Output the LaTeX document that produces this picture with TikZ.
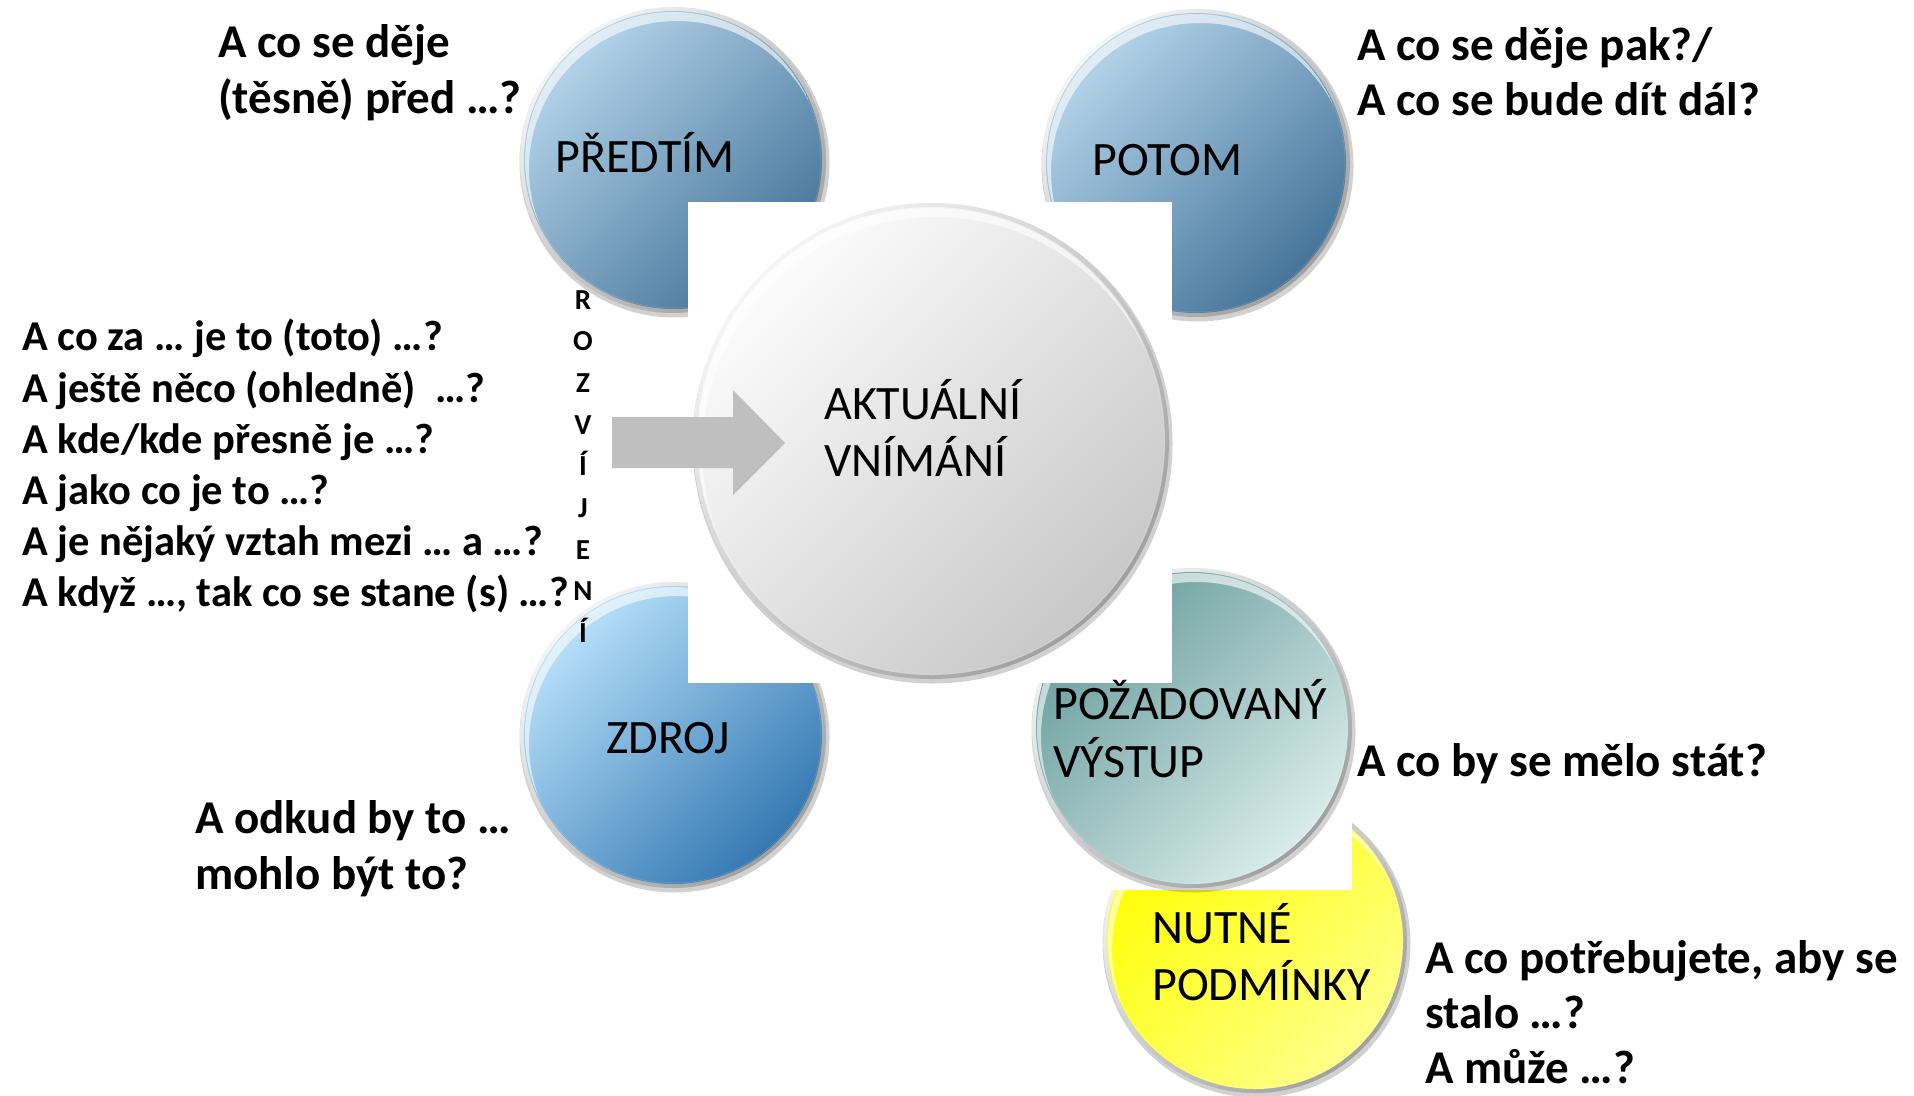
\documentclass[tikz,border=0pt]{standalone}
\usepackage{fontspec}
\setmainfont{Carlito}
\definecolor{blueTL}{HTML}{B4D4EA}
\definecolor{blueBR}{HTML}{46759A}
\definecolor{skyTL}{HTML}{B8E0FA}
\definecolor{skyBR}{HTML}{3479B2}
\definecolor{tealTL}{HTML}{6B9E9E}
\definecolor{tealBR}{HTML}{D8ECEA}
\definecolor{greyTL}{HTML}{FCFCFC}
\definecolor{greyBR}{HTML}{C8C8C8}
\definecolor{yelTL}{HTML}{FFFF00}
\definecolor{yelBR}{HTML}{FFFF88}
\definecolor{arrowgrey}{HTML}{BFBFBF}
\tikzset{
  qtext/.style={font=\bfseries\fontsize{47}{57}\selectfont, anchor=base west, inner sep=0pt},
  ltext/.style={font=\bfseries\fontsize{42.5}{51}\selectfont, anchor=base west, inner sep=0pt},
  ctext/.style={font=\fontsize{48}{58}\selectfont, anchor=base west, inner sep=0pt},
  vtext/.style={font=\bfseries\fontsize{29}{34}\selectfont, anchor=base, inner sep=0pt},
  whitebox/.style={fill=white},
}
\newcommand\bubble[6]{%
  \coordinate (#1) at (#2,#3);
  \fill[black, opacity=0.18] (#2+1.5,#3+2.5) circle[radius=#4+2];
  \shade[top color=gray!8, bottom color=gray!75, shading angle=45] (#1) circle[radius=#4];
  \shade[top color=#5, bottom color=#6, shading angle=45] (#1) circle[radius=#4-4];
  \begin{scope}
    \clip (#1) circle[radius=#4-5];
    \fill[white, opacity=0.6, even odd rule] (#1) circle[radius=#4-5] (#2+4,#3+9) circle[radius=#4-5];
  \end{scope}
}
\begin{document}
\begin{tikzpicture}[x=1pt,y=-1pt]
\useasboundingbox[fill=white] (0,0) rectangle (1914,1095);

% outer bubbles
\bubble{pred}{673}{160}{153}{blueTL}{blueBR}
\bubble{potom}{1196}{163}{154}{blueTL}{blueBR}
\bubble{zdroj}{673}{735}{153}{skyTL}{skyBR}
\bubble{nutne}{1255}{941}{152}{yelTL}{yelBR}
\fill[whitebox] (1032,568) rectangle (1352,890);
\bubble{vystup}{1192}{728}{160}{tealTL}{tealBR}

% central
\fill[whitebox] (688,202) rectangle (1172,683);
\bubble{akt}{931}{441}{238}{greyTL}{greyBR}

% arrow
\fill[arrowgrey] (612,417) -- (733,417) -- (733,390) -- (785,443) -- (733,495) -- (733,468) -- (612,468) -- cycle;

% circle labels
\node[ctext] (tpred) at (555,172) {PŘEDTÍM};
\node[ctext] (tpotom) at (1092,175) {POTOM};
\node[ctext] (tzdroj) at (606,753) {ZDROJ};
\node[ctext] (takt1) at (824,419) {AKTUÁLNÍ};
\node[ctext] (takt2) at (824,476) {VNÍMÁNÍ};
\node[ctext] (tvys1) at (1053,719) {POŽADOVANÝ};
\node[ctext] (tvys2) at (1053,777) {VÝSTUP};
\node[ctext] (tnut1) at (1152,943) {NUTNÉ};
\node[ctext] (tnut2) at (1152,1000) {PODMÍNKY};

% questions
\node[qtext] (q1a) at (218,57) {A co se děje};
\node[qtext] (q1b) at (218,113) {(těsně) před …?};
\node[qtext] (q2a) at (1357,60) {A co se děje pak?/};
\node[qtext] (q2b) at (1357,115) {A co se bude dít dál?};
\node[qtext] (q3) at (1357,776) {A co by se mělo stát?};
\node[qtext] (q4a) at (195,833) {A odkud by to …};
\node[qtext] (q4b) at (195,889) {mohlo být to?};
\node[qtext] (q5a) at (1425,973) {A co potřebujete, aby se};
\node[qtext] (q5b) at (1425,1028) {stalo …?};
\node[qtext] (q5c) at (1425,1083) {A může …?};

\node[ltext] (l1) at (22,350) {A co za … je to (toto) …?};
\node[ltext] (l2) at (22,402) {A ještě něco (ohledně)~~…?};
\node[ltext] (l3) at (22,453) {A kde/kde přesně je …?};
\node[ltext] (l4) at (22,504) {A jako co je to …?};
\node[ltext] (l5) at (22,555) {A je nějaký vztah mezi … a …?};
\node[ltext] (l6) at (22,606) {A když …, tak co se stane (s) …?};

% vertical word
\foreach \ch [count=\i from 0] in {R,O,Z,V,Í,J,E,N,Í}{
  \node[vtext] (v\i) at (583,309+41.7*\i) {\ch};
}
\end{tikzpicture}
\end{document}
